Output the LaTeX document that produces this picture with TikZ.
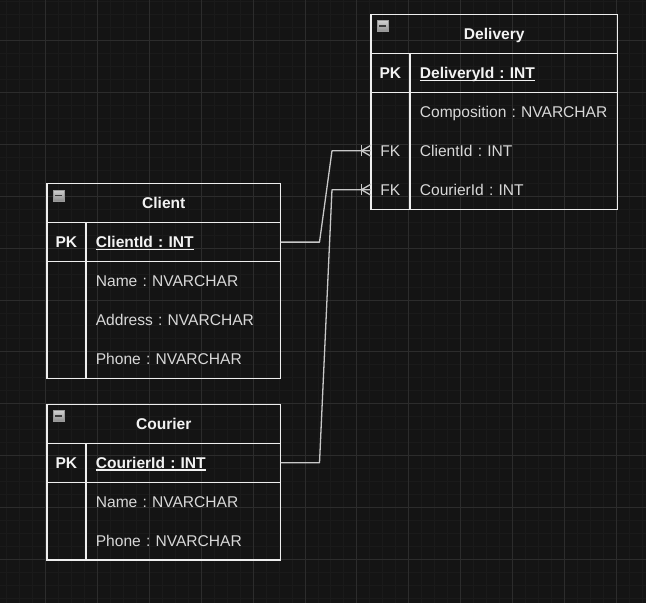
\documentclass[tikz,border=0pt]{standalone}
\usepackage{fontspec}
\setmainfont{Liberation Sans}
\usepackage{tikz}
\usetikzlibrary{fit}
\usetikzlibrary{positioning}
\usetikzlibrary{calc}

\definecolor{canvas}{HTML}{141414}
\definecolor{gridminor}{HTML}{1A1A1A}
\definecolor{gridmajor}{HTML}{2C2C2C}
\definecolor{tableline}{HTML}{EEEEEE}
\definecolor{titletext}{HTML}{F2F2F2}
\definecolor{fieldtext}{HTML}{D8D8D8}
\definecolor{linkcolor}{HTML}{C8C8C8}
\definecolor{iconedge}{HTML}{9A9A9A}
\definecolor{icontop}{HTML}{D0D0D0}
\definecolor{iconbottom}{HTML}{8C8C8C}
\definecolor{icondark}{HTML}{3A3A3A}

\frenchspacing
\newcommand{\pkline}[1]{\setbox0\hbox{#1}\rlap{\rule[-2.4pt]{\wd0}{1.2pt}}\box0}

\begin{document}
\begin{tikzpicture}[
            x = 1pt, y = -1pt, % pixel units, y going down
            node distance = 39pt, % row height
            line width = 1.3pt
        ]

        \tikzstyle{title}=[
            draw = tableline,
            minimum height = 39pt,
            inner sep = 0pt, outer sep = 0pt,
            text height = 14pt, text depth = 3pt,
            font = \bfseries\fontsize{15.6}{18}\selectfont,
            text = titletext
        ]
        \tikzstyle{key}=[
            minimum width = 39pt, minimum height = 39pt,
            inner sep = 0pt, outer sep = 0pt,
            text height = 14pt, text depth = 3pt,
            font = \fontsize{15.6}{18}\selectfont,
            text = fieldtext
        ]
        \tikzstyle{field}=[
            minimum height = 39pt,
            inner xsep = 10pt, inner ysep = 0pt, outer sep = 0pt,
            text height = 14pt, text depth = 3pt,
            align = left,
            font = \fontsize{15.6}{18}\selectfont,
            text = fieldtext
        ]
        \tikzstyle{pk}=[
            draw = tableline,
            font = \bfseries\fontsize{15.6}{18}\selectfont,
            text = titletext
        ]
        \tikzstyle{section}=[draw = tableline, inner sep = 0pt]
        \tikzstyle{icon}=[
            draw = iconedge, top color = icontop, bottom color = iconbottom,
            minimum size = 11pt, inner sep = 0pt, line width = 0.6pt
        ]
        \tikzstyle{link}=[draw = linkcolor, line join = round]

% background grid
        \fill[canvas] (0,0) rectangle (646,603);
        \foreach \x in {6,19,...,645} \draw[gridminor, line width = 1pt] (\x,0) -- (\x,603);
        \foreach \y in {1,14,...,602} \draw[gridminor, line width = 1pt] (0,\y) -- (646,\y);
        \foreach \x in {45,97,...,645} \draw[gridmajor, line width = 1pt] (\x,0) -- (\x,603);
        \foreach \y in {40,92,...,602} \draw[gridmajor, line width = 1pt] (0,\y) -- (646,\y);

% Delivery
        \node[key, pk] (DK1) at (390.5,72.5) {PK};
        \node[field, pk, text width = 188pt, right = 0pt of DK1] (DF1) {\pkline{DeliveryId : INT}};
        \node[key] (DK2) [below of = DK1] {};
        \node[field, text width = 188pt, right = 0pt of DK2] (DF2) {Composition : NVARCHAR};
        \node[key] (DK3) [below of = DK2] {FK};
        \node[field, text width = 188pt, right = 0pt of DK3] (DF3) {ClientId : INT};
        \node[key] (DK4) [below of = DK3] {FK};
        \node[field, text width = 188pt, right = 0pt of DK4] (DF4) {CourierId : INT};
        \node[title, minimum width = 247pt, anchor = south west] (DT) at (DK1.north west) {Delivery};
        \node[section, fit = (DK2) (DK4)] {};
        \node[section, fit = (DF2) (DF4)] {};
        \node[icon, anchor = north west, xshift = 6pt, yshift = -6pt] (DI) at (DT.north west) {\textcolor{icondark}{\rule{7pt}{1.6pt}}};

% Client
        \node[key, pk] (LK1) at (66,242) {PK};
        \node[field, pk, text width = 175pt, right = 0pt of LK1] (LF1) {\pkline{ClientId : INT}};
        \node[key] (LK2) [below of = LK1] {};
        \node[field, text width = 175pt, right = 0pt of LK2] (LF2) {Name : NVARCHAR};
        \node[key] (LK3) [below of = LK2] {};
        \node[field, text width = 175pt, right = 0pt of LK3] (LF3) {Address : NVARCHAR};
        \node[key] (LK4) [below of = LK3] {};
        \node[field, text width = 175pt, right = 0pt of LK4] (LF4) {Phone : NVARCHAR};
        \node[title, minimum width = 234pt, anchor = south west] (LT) at (LK1.north west) {Client};
        \node[section, fit = (LK2) (LK4)] {};
        \node[section, fit = (LF2) (LF4)] {};
        \node[icon, anchor = north west, xshift = 6pt, yshift = -6pt] (LI) at (LT.north west) {\textcolor{icondark}{\rule{7pt}{1.6pt}}};

% Courier
        \node[key, pk] (RK1) at (66,463) {PK};
        \node[field, pk, text width = 175pt, right = 0pt of RK1] (RF1) {\pkline{CourierId : INT}};
        \node[key] (RK2) [below of = RK1] {};
        \node[field, text width = 175pt, right = 0pt of RK2] (RF2) {Name : NVARCHAR};
        \node[key] (RK3) [below of = RK2] {};
        \node[field, text width = 175pt, right = 0pt of RK3] (RF3) {Phone : NVARCHAR};
        \node[title, minimum width = 234pt, anchor = south west] (RT) at (RK1.north west) {Courier};
        \node[section, fit = (RK2) (RK3)] {};
        \node[section, fit = (RF2) (RF3)] {};
        \node[icon, anchor = north west, xshift = 6pt, yshift = -6pt] (RI) at (RT.north west) {\textcolor{icondark}{\rule{7pt}{1.6pt}}};

% relationships (one to many)
        \draw[link] (LF1.east) -- ++(39,0) -- ($(DK3.west) + (-39,0)$) -- (DK3.west);
        \draw[link] ($(DK3.west) + (-9.5,-5.5)$) -- ++(0,11);
        \draw[link] ($(DK3.west) + (0,-5.5)$) -- ++(-9.5,5.5) -- ++(9.5,5.5);

        \draw[link] (RF1.east) -- ++(39,0) -- ($(DK4.west) + (-39,0)$) -- (DK4.west);
        \draw[link] ($(DK4.west) + (-9.5,-5.5)$) -- ++(0,11);
        \draw[link] ($(DK4.west) + (0,-5.5)$) -- ++(-9.5,5.5) -- ++(9.5,5.5);

  \end{tikzpicture}
\end{document}
